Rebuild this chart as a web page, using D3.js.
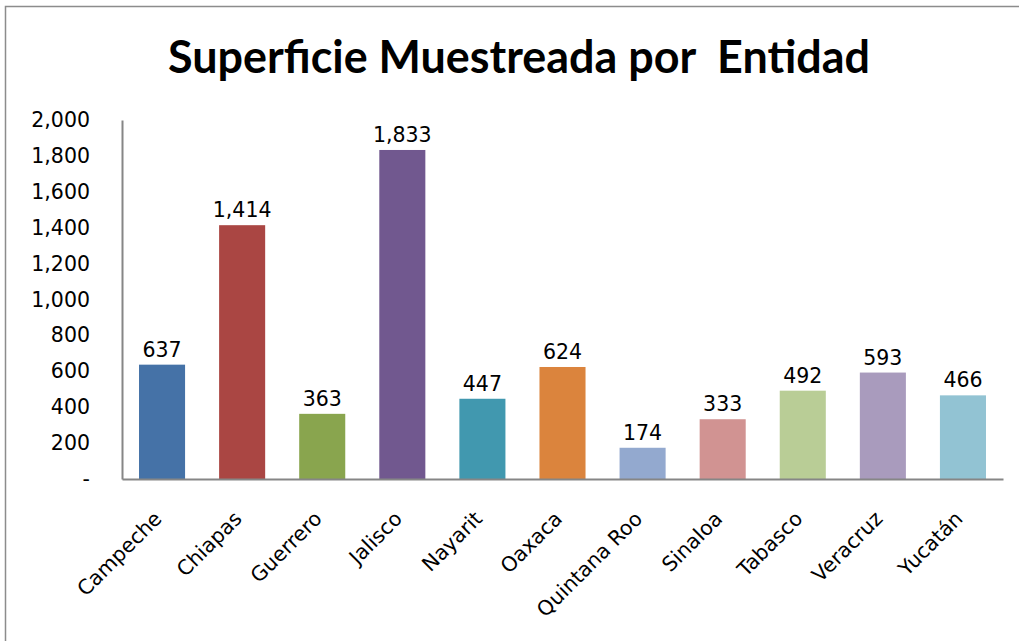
<!DOCTYPE html>
<html>
<head>
<meta charset="utf-8">
<script src="https://cdn.jsdelivr.net/npm/d3@7"></script>
<style>
  body { margin: 0; background: #fff; }
  text { font-family: "DejaVu Sans", sans-serif; fill: #000; }
</style>
</head>
<body>
<svg id="chart" width="1019" height="641"></svg>
<script>
// data
var entidades = ["Campeche", "Chiapas", "Guerrero", "Jalisco", "Nayarit", "Oaxaca",
  "Quintana Roo", "Sinaloa", "Tabasco", "Veracruz", "Yucatán"];
var superficie = [637, 1414, 363, 1833, 447, 624, 174, 333, 492, 593, 466];
var colores = ["#4572A7", "#AA4643", "#89A54E", "#71588F", "#4198AF", "#DB843D",
  "#93A9CF", "#D19392", "#B9CD96", "#A99BBD", "#92C3D3"];
var yTicks = [0, 200, 400, 600, 800, 1000, 1200, 1400, 1600, 1800, 2000];

var svg = d3.select("#chart");

// chart frame
svg.append("path")
  .attr("d", "M5.5,641 V6.5 H1019")
  .attr("fill", "none")
  .attr("stroke", "#8c8c8c")
  .attr("stroke-width", 1.5);

svg.append("text")
  .attr("x", 519)
  .attr("y", 73)
  .attr("text-anchor", "middle")
  .style("font-family", "Lato, sans-serif")
  .style("font-size", "46px")
  .style("font-weight", "bold")
  .style("white-space", "pre")
  .attr("textLength", 702)
  .attr("lengthAdjust", "spacingAndGlyphs")
  .text("Superficie Muestreada por  Entidad");

var plot = { left: 122, right: 1003, top: 120, bottom: 479 };

var x = d3.scaleBand()
  .domain(entidades)
  .range([plot.left, plot.right])
  .paddingInner(0.425)
  .paddingOuter(0.2125);

var y = d3.scaleLinear()
  .domain([0, 2000])
  .range([plot.bottom, plot.top]);

var fmt = d3.format(",");

// y axis
var yAxis = svg.append("g")
  .attr("transform", "translate(" + plot.left + ",0)")
  .call(d3.axisLeft(y).tickValues(yTicks).tickSize(0).tickPadding(32)
    .tickFormat(function(d) { return d === 0 ? "-" : fmt(d); }));
yAxis.select(".domain").attr("stroke", "#868686").attr("stroke-width", 2);
yAxis.selectAll("text").style("font-size", "20.5px").style("font-family", null);

// bars
svg.selectAll("rect.bar")
  .data(superficie)
  .enter().append("rect")
  .attr("class", "bar")
  .attr("x", function(d, i) { return x(entidades[i]); })
  .attr("width", x.bandwidth())
  .attr("y", function(d) { return y(d); })
  .attr("height", function(d) { return y(0) - y(d); })
  .attr("fill", function(d, i) { return colores[i]; });

// value labels
svg.selectAll("text.val")
  .data(superficie)
  .enter().append("text")
  .attr("class", "val")
  .attr("x", function(d, i) { return x(entidades[i]) + x.bandwidth() / 2; })
  .attr("y", function(d) { return y(d) - 8; })
  .attr("text-anchor", "middle")
  .style("font-size", "20.5px")
  .text(function(d) { return fmt(d); });

// x axis
var xAxis = svg.append("g")
  .attr("transform", "translate(0," + plot.bottom + ")")
  .call(d3.axisBottom(x).tickSize(0).tickPadding(0));
xAxis.select(".domain").attr("stroke", "#868686").attr("stroke-width", 2);
xAxis.selectAll("text")
  .style("font-size", "20.5px")
  .style("font-family", null)
  .attr("text-anchor", "end")
  .attr("y", 0)
  .attr("dy", 0)
  .attr("transform", "translate(1,41) rotate(-45)");
</script>
</body>
</html>
